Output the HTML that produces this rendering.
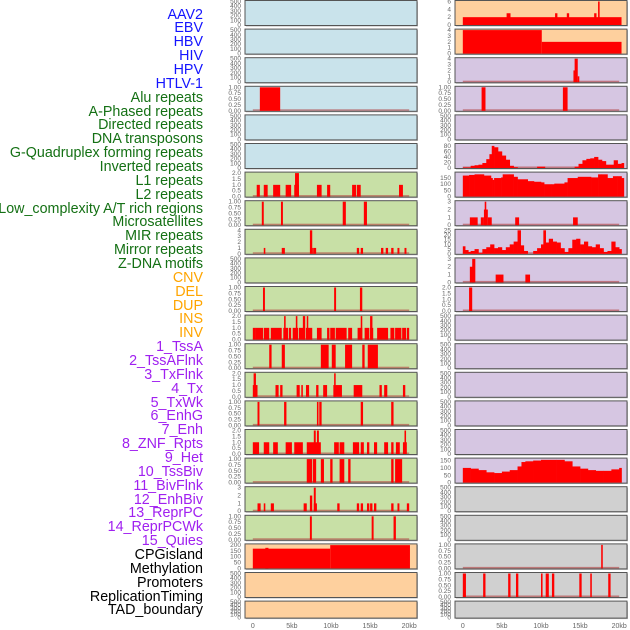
<!DOCTYPE html>
<html><head><meta charset="utf-8">
<style>
html,body{margin:0;padding:0;background:#fff;}
#root{position:relative;width:630px;height:630px;overflow:hidden;font-family:"Liberation Sans",sans-serif;}
.lbl{position:absolute;right:427px;font-size:14.3px;line-height:14px;white-space:nowrap;text-align:right;}
</style></head>
<body>
<div id="root">
<svg id="svg" width="630" height="630" style="position:absolute;left:0;top:0"></svg>
</div>
<script>
const labels = ["AAV2","EBV","HBV","HIV","HPV","HTLV-1","Alu repeats","A-Phased repeats","Directed repeats","DNA transposons","G-Quadruplex forming repeats","Inverted repeats","L1 repeats","L2 repeats","Low_complexity A/T rich regions","Microsatellites","MIR repeats","Mirror repeats","Z-DNA motifs","CNV","DEL","DUP","INS","INV","1_TssA","2_TssAFlnk","3_TxFlnk","4_Tx","5_TxWk","6_EnhG","7_Enh","8_ZNF_Rpts","9_Het","10_TssBiv","11_BivFlnk","12_EnhBiv","13_ReprPC","14_ReprPCWk","15_Quies","CPGisland","Methylation","Promoters","ReplicationTiming","TAD_boundary"];
const labelGroups = ["v","v","v","v","v","v","r","r","r","r","r","r","r","r","r","r","r","r","r","s","s","s","s","s","c","c","c","c","c","c","c","c","c","c","c","c","c","c","c","o","o","o","o","o"];
const xTicks = [0,5,10,15,20];
const xTickLabels = ["0","5kb","10kb","15kb","20kb"];

const T500 = ["0","100","200","300","400","500"];
const T1 = ["0.00","0.25","0.50","0.75","1.00"];
const T2 = ["0.0","0.5","1.0","1.5","2.0"];
const T3 = ["0","1","2","3"];
const T4 = ["0","1","2","3","4"];

const L4 = [[0.9,3.5,1]];
const L7 = [[0.5,0.9,1],[1.4,1.9,1],[2.6,3.5,1],[4.2,4.9,1],[5.3,5.9,1],[5.4,5.9,2],[8.2,8.8,1],[9.5,9.9,1],[12.7,13.2,1],[13.3,13.8,1],[18.7,19.2,1]];
const L8 = [[1.15,1.4,1],[3.6,3.85,1],[11.5,11.9,1],[14.2,14.6,1]];
const L9 = [[1.4,1.6,1],[3.7,4.1,1],[7.3,7.6,4],[7.6,7.75,1],[7.8,8.1,1],[13.3,13.6,1],[13.8,14.1,1],[16.4,16.7,1],[17,17.3,1],[17.7,18,1],[18.5,18.75,1],[19.4,19.65,1]];
const L11 = [[1.3,1.55,1],[10.4,10.65,1],[13.7,14,1]];
const L12 = [[0,0.4,1],[0.4,1.3,1],[1.4,2.1,1],[2.3,3.7,1],[3.9,4.5,1],[4.6,4.9,1],[5.1,5.8,1],[5.9,6.7,1],[6.8,7.6,1],[8.2,8.8,1],[9.5,9.8,1],[9.9,10.5,1],[10.6,12,1],[12.2,12.7,1],[13.4,14,1],[14.3,14.9,1],[15,15.4,1],[15.9,17.3,1],[17.6,18.1,1],[18.2,19,1],[19.1,19.6,1],[19.7,20,1],[4,4.2,2],[5.5,5.7,2],[6.4,6.7,2],[6.9,7.05,2],[13.8,14,2],[15,15.3,2]];
const L13 = [[2.1,2.4,1],[3.7,4.1,1],[8.7,9.7,1],[10.1,10.6,1],[11.8,12.7,1],[14,14.3,1],[14.7,16,1]];
const L14 = [[0,0.6,1],[2.9,3.3,1],[3.5,3.8,1],[5.6,6,1],[6.2,6.4,1],[6.8,7.2,1],[8.1,8.4,1],[9,9.5,1],[10.3,11.4,1],[12.9,14,1],[16.2,16.5,1],[16.8,17.2,1],[19.2,19.5,1],[0.1,0.4,2],[10.4,10.6,2]];
const L15 = [[0.6,0.85,1],[4,4.3,1],[8.2,8.4,1],[8.5,8.8,1],[13.8,14.1,1],[17.7,18,1]];
const L16 = [[0,0.8,1],[1.4,2.1,1],[2.6,3.2,1],[4.2,5,1],[5.3,6.4,1],[6.9,8.7,1],[10.4,11,1],[11.1,11.7,1],[12.8,13.6,1],[13.8,14.2,1],[14.6,14.9,1],[15.5,15.9,1],[16.8,17.3,1],[17.7,18,1],[18.3,18.8,1],[19.2,19.7,1],[7.8,8.05,2],[8.2,8.45,2],[19.4,19.6,2]];
const L17 = [[6.9,7.6,1],[7.7,8.1,1],[8.7,9.1,1],[9.9,10.2,1],[11.1,11.7,1],[12.2,12.5,1],[17.7,18,1],[18.2,19.1,1]];
const L18 = [[0.6,1,1],[1.4,1.6,1],[2.3,2.7,1],[6.5,6.9,1],[7.8,8.2,1],[10.8,11.1,1],[13.3,13.6,1],[13.8,14.1,1],[14.6,14.9,1],[15,15.3,1],[15.5,15.8,1],[17.7,18,1],[18.5,18.75,1],[19.7,20,1],[7.3,7.6,2],[7.8,8.05,3]];
const L19 = [[7.3,7.55,1],[15.2,15.45,1],[18,18.3,1]];
const L20 = [[0,9.9,168],[1.6,2,175],[9.9,20.1,198]];

const R1 = [[0,20.3,2],[5.6,6.1,3],[11.8,12.1,3],[13.3,13.6,3],[16.8,17.1,3],[17.3,17.5,6]];
const R2 = [[0,10.1,4],[10.1,20.3,2]];
const R3 = [[14.15,14.3,2],[14.3,14.7,4],[14.7,14.9,1]];
const R4 = [[2.4,2.9,1],[12.8,13.4,1]];
const R6pos = [0,0.5,1,1.5,2,2.5,3,3.4,3.7,4,4.5,5,5.5,6,6.5,7,9.5,10.5,14.3,14.8,15.3,15.8,16.3,16.8,17.3,17.8,18.3,18.8,19.3,19.8,20.3];
const R6val = [2,2,8,10,12,18,32,50,80,75,60,45,30,8,3,0,5,0,5,15,28,33,35,40,30,25,12,12,28,15,18];
const R7pos = [0,0.8,1.5,2.3,2.7,3.6,3.8,4,4.9,5.1,5.9,6.5,7,8.3,9.1,10,10.4,11.3,11.7,13,13.4,14.7,16.4,17.3,17.7,18.5,19.2,19.8,20.3];
const R7val = [170,175,180,180,170,150,135,150,155,180,180,160,140,125,120,115,100,100,105,115,150,160,155,180,180,150,165,165,150];
const R8 = [[0.9,1.9,1],[2.3,2.7,1],[2.7,3.2,2],[2.8,3.0,3],[3.2,3.7,1],[6.7,7.2,1],[14.1,14.7,1]];
const R9pos = [0,0.3,0.7,1,1.5,2,2.5,3,3.5,4,4.5,5,5.5,6,6.5,7,7.4,7.8,8.3,9,9.5,10,10.3,10.6,11,11.5,12,12.5,13,13.5,14,14.5,15,15.5,16,16.5,17,17.5,18,18.5,19,19.5,20];
const R9val = [8,4,2,3,5,1,5,7,10,6,7,4,7,10,13,25,9,3,0,3,6,10,25,12,16,13,12,6,2,6,15,16,10,13,8,7,10,6,2,3,13,7,5];
const R10 = [[0.9,1.4,2],[1.2,1.6,3],[4.2,5.2,1],[8,8.6,1]];
const R11 = [[0.8,1.2,2]];
const R17pos = [0,1,2,3,4,5,6,7,7.5,8,9,10,12,13,14,15,16,17,18,19,20];
const R17val = [100,95,85,70,65,75,85,110,140,145,150,155,155,145,110,95,85,80,80,90,100];
const R20 = [[17.7,17.9,1]];
const R21 = [[0,0.4,1],[2.6,2.9,1],[5.8,6.1,1],[6.8,7.1,1],[10,10.2,1],[10.6,11,1],[11.4,11.7,1],[14.9,15.2,1],[16.3,16.5,1],[18.6,18.9,1]];

const C = {b:"#c9e3eb",g:"#c8e0a6",o:"#fed09e",p:"#d6c6e2",y:"#d0d0d0"};
const leftPanels = [
 [C.b,T500,500,null],[C.b,T500,500,null],[C.b,T500,500,null],[C.b,T1,1,L4,null,1],[C.b,T500,500,null],[C.b,T500,500,null],
 [C.g,T2,2,L7,null,1],[C.g,T1,1,L8,null,1],[C.g,T4,4,L9,null,1],[C.g,T500,500,null],[C.g,T1,1,L11,null,1],[C.g,T2,2,L12,null,1],
 [C.g,T1,1,L13,null,1],[C.g,T2,2,L14,null,1],[C.g,T1,1,L15,null,1],[C.g,T2,2,L16,null,1],[C.g,T1,1,L17,null,1],[C.g,T3,3,L18,null,1],
 [C.g,T1,1,L19,null,1],[C.o,["0","50","100","150","200"],200,L20],[C.o,T500,500,null],[C.o,T500,500,null]];
const rightPanels = [
 [C.o,["0","2","4","6"],6,R1],[C.o,T4,4,R2],[C.p,T4,4,R3,null,1],[C.p,T1,1,R4,null,1],[C.p,T500,500,null],
 [C.p,["0","20","40","60","80"],85,null,[R6pos,R6val],1],[C.p,["0","50","100","150"],190,null,[R7pos,R7val]],
 [C.p,T3,3,R8,null,1],[C.p,["0","5","10","15","20","25"],25,null,[R9pos,R9val],1],[C.p,T3,3,R10,null,1],[C.p,["0.0","0.5","1.0","1.5","2.0"],2,R11,null,1],
 [C.p,T500,500,null],[C.p,T500,500,null],[C.p,T500,500,null],[C.p,T500,500,null],[C.p,T500,500,null],
 [C.p,["0","50","100","150"],160,null,[R17pos,R17val]],[C.y,T500,500,null],[C.y,T500,500,null],[C.y,T1,1,R20,null,1],[C.y,T1,1,R21,null,1],[C.y,T500,500,null]];

const svg = document.getElementById('svg');
const NS = "http://www.w3.org/2000/svg";
function mk(tag, attrs, parent){const e=document.createElementNS(NS,tag);for(const k in attrs)e.setAttribute(k,attrs[k]);(parent||svg).appendChild(e);return e;}

const root = document.getElementById('root');
const colors = {v:"#1414ff",r:"#147014",s:"#ffa500",c:"#a020f0",o:"#000"};
labels.forEach((t,i)=>{
  const d=document.createElement('div');
  d.className='lbl';
  d.style.top=(15+i*13.86-7.5)+'px';
  d.style.color=colors[labelGroups[i]];
  d.textContent=t;
  
  
  root.appendChild(d);
});

function drawColumn(panels, px0, colName){
  const W=172;
  const xs = kb => px0 + (kb+1)/22*W;
  panels.forEach((p,i)=>{
    const top = i*28.6+0.5, h = (i===21)?17:25;
    const g = mk('g',{});
    
    
    mk('rect',{x:px0+1,y:top+1,width:W,height:h,fill:'#bbb'},g);
    mk('rect',{x:px0,y:top,width:W,height:h,fill:p[0],stroke:'#555','stroke-width':1},g);
    const ymax=p[2], bottom=top+h-0.5, ih=h-1.5;
    const ys = v => bottom - v/ymax*ih;
    p[1].forEach(t=>{
      const tx=mk('text',{x:px0-4,y:ys(parseFloat(t))+2,'font-size':6.5,fill:'#666','text-anchor':'end'},g);
      tx.textContent=t;
      
      
    });
    if(p[5]){ const bl=mk('rect',{x:xs(0),y:bottom-1.5,width:xs(20)-xs(0),height:1.5,fill:'#b04040',opacity:0.6},g);
      
       }
    if(p[3]) p[3].forEach(b=>{
      const r=mk('rect',{x:xs(b[0]),y:ys(b[2]),width:Math.max(1.5,xs(b[1])-xs(b[0])),height:bottom-ys(b[2]),fill:'#ff0000'},g);
      
      
    });
    if(p[4]){ const pos=p[4][0], val=p[4][1];
      for(let k=0;k<pos.length;k++){
        const x1=xs(pos[k]), x2=(k+1<pos.length)?xs(pos[k+1]):xs(pos[k]+0.3);
        const r=mk('rect',{x:x1,y:ys(val[k]),width:x2-x1+0.3,height:bottom-ys(val[k]),fill:'#ff0000'},g);
        
        
      }}
  });
  xTicks.forEach((v,k)=>{
    const t=mk('text',{x:xs(v),y:628,'font-size':7,fill:'#666','text-anchor':'middle'});
    t.textContent=xTickLabels[k];
    
    
  });
}
drawColumn(leftPanels,245,'left');
drawColumn(rightPanels,455,'right');
</script>
</body></html>
